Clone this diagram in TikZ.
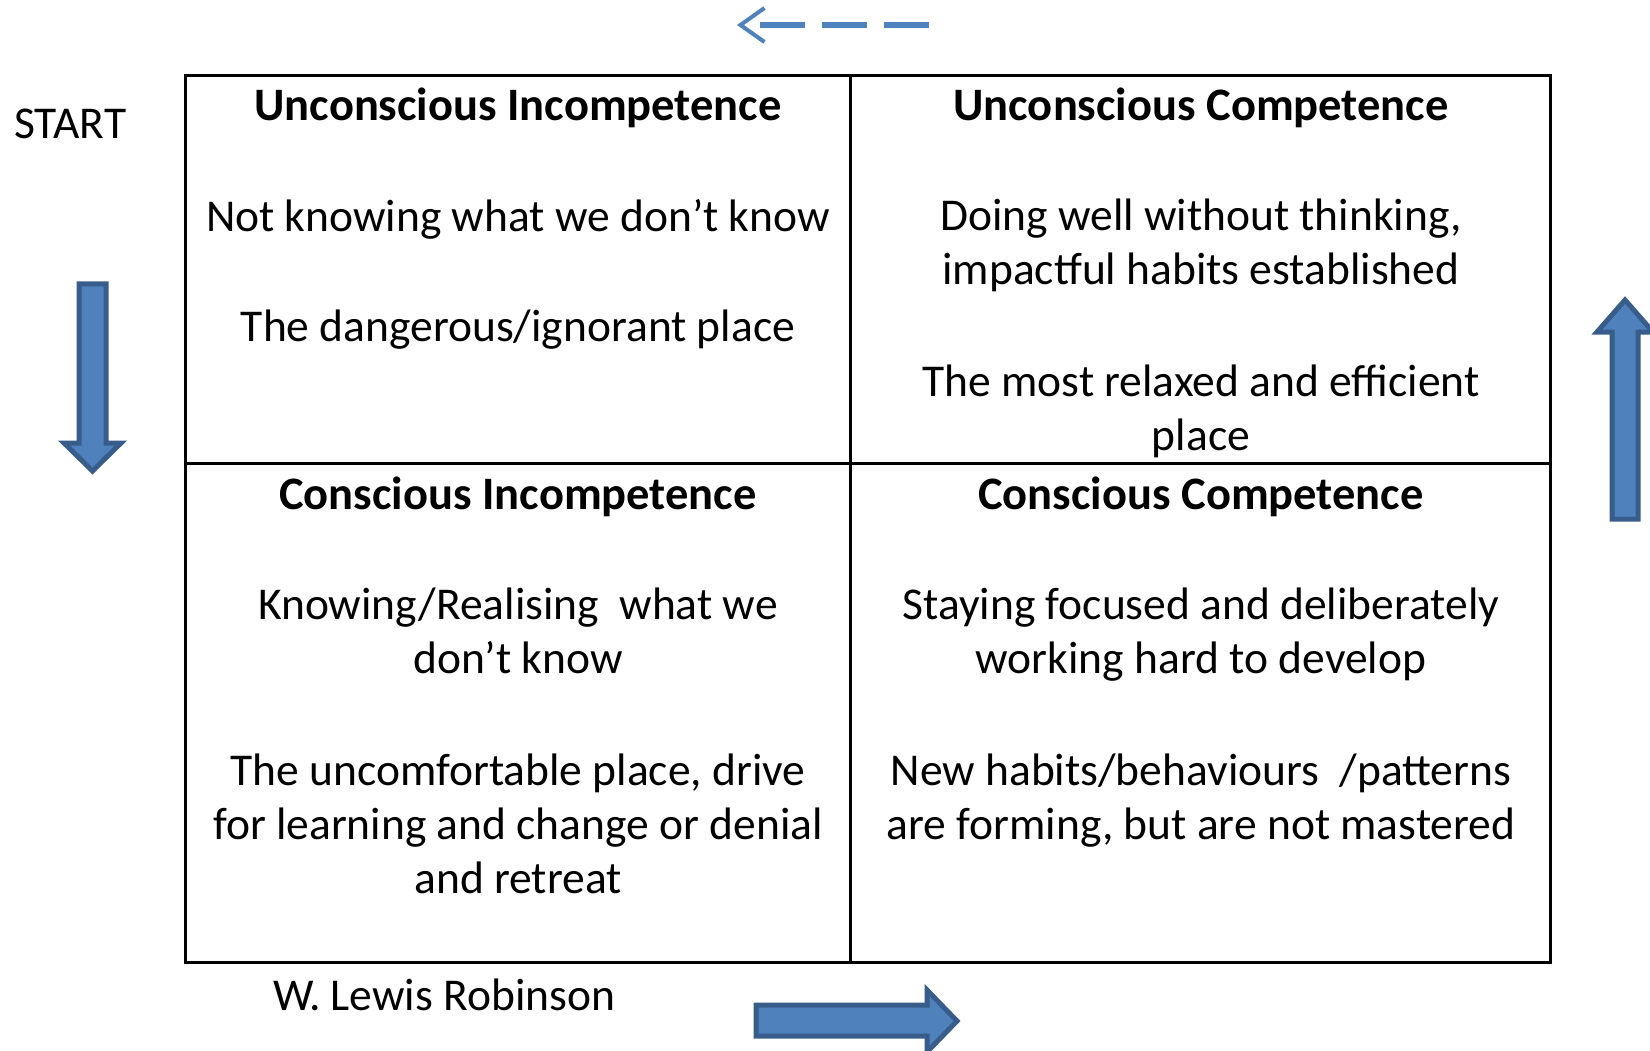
\documentclass[tikz,border=0pt]{standalone}
\usepackage{fontspec}
\setmainfont{Carlito}
\usepackage{tikz}
\usetikzlibrary{positioning,arrows.meta}
\definecolor{arrowfill}{HTML}{4F81BD}
\definecolor{arrowline}{HTML}{385D8A}

\begin{document}
\begin{tikzpicture}[
    x=1pt, y=-1pt,
    title/.style = {font=\fontsize{46.5}{54}\selectfont\bfseries, inner sep=0pt},
    body/.style = {font=\fontsize{45.5}{54}\selectfont, align=center, inner sep=0pt},
    blockarrow/.style = {fill=arrowfill, draw=arrowline, line width=5pt, line join=miter},
    grid/.style = {line width=3pt},
]
    \useasboundingbox (0,0) rectangle (1650,1051);
    \clip (0,0) rectangle (1650,1051);

    % quadrant grid
    \draw[grid] (185,76) rectangle (1550,962);
    \draw[grid] (850,76) -- (850,962);
    \draw[grid] (185,463) -- (1550,463);

    % top left
    \node[title] (ui) at (518,108) {Unconscious Incompetence};
    \node[body] (uitext) at (518,219) {Not knowing\ what we don’t know};
    \node[body] (uiplace) at (518,330) {The dangerous/ignorant place};

    % top right
    \node[title] (uc) at (1201,108) {Unconscious Competence};
    \node[body] (uctext) at (1201,245) {Doing well without thinking,\\ impactful habits established};
    \node[body] (ucplace) at (1201,411) {The most relaxed and efficient\\ place};

    % bottom left
    \node[title] (ci) at (518,497) {Conscious Incompetence};
    \node[body] (citext) at (518,631) {Knowing/Realising\ \ what we\\ don’t know};
    \node[body] (ciplace) at (518,824) {The uncomfortable place, drive\\ for learning and change or denial\\ and retreat};

    % bottom right
    \node[title] (cc) at (1201,497) {Conscious Competence};
    \node[body] (cctext) at (1201,635) {Staying focused and deliberately\\ working hard to develop};
    \node[body] (ccplace) at (1201,801) {New habits/behaviours\ \ /patterns\\ are forming, but are not mastered};

    % side labels
    \node[body, anchor=west] (start) at (14,124) {START};
    \node[body, anchor=west] (author) at (273,995) {W. Lewis Robinson};

    % block arrows
    \draw[blockarrow] (79,284) -- (106,284) -- (106,443) -- (121,443) -- (92.5,471)
        -- (64,443) -- (79,443) -- cycle;
    \draw[blockarrow] (1612,519) -- (1612,332) -- (1597,332) -- (1625,300)
        -- (1653,332) -- (1638,332) -- (1638,519) -- cycle;
    \draw[blockarrow] (756,1005) -- (927,1005) -- (927,990) -- (957,1021)
        -- (927,1052) -- (927,1036) -- (756,1036) -- cycle;

    % dashed arrow on top
    \coordinate (dstart) at (929,25);
    \coordinate (dend) at (737,25);
    \draw[arrowfill, line width=6pt, dash pattern=on 45pt off 17pt,
        -{Straight Barb[length=24pt, width=34pt, line width=4pt]}] (dstart) -- (dend);

\end{tikzpicture}
\end{document}
